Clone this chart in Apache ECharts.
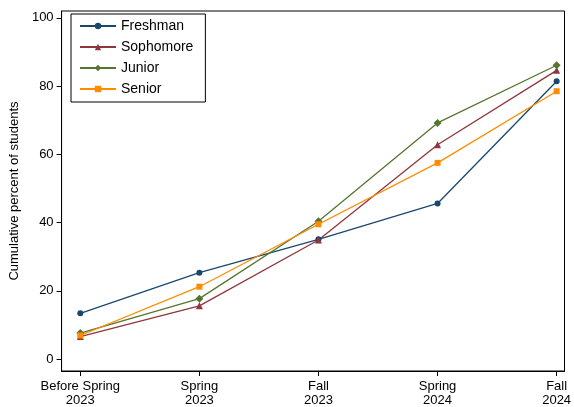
<!DOCTYPE html>
<html><head><meta charset="utf-8">
<script src="https://cdn.jsdelivr.net/npm/echarts@6/dist/echarts.min.js"></script>
<style>html,body{margin:0;padding:0;background:#fff}#c{width:574px;height:407px}</style>
</head><body><div id="c"></div>
<script>
var categories = ['Before Spring\n2023', 'Spring\n2023', 'Fall\n2023', 'Spring\n2024', 'Fall\n2024'];
var freshman = [13.4, 25.3, 35.1, 45.6, 81.4];
var sophomore = [6.6, 15.6, 34.9, 62.8, 84.6];
var junior = [7.6, 17.7, 40.4, 69.2, 86.1];
var senior = [6.9, 21.2, 39.5, 57.5, 78.5];
var yTicks = [0, 20, 40, 60, 80, 100];

function pts(arr) { return arr.map(function (v, i) { return [i, v]; }); }
function ser(name, data, color, symbol, size) {
	return {
		name: name, type: 'line', data: pts(data), symbol: symbol, symbolSize: size,
		lineStyle: { color: color, width: 1.3 }, itemStyle: { color: color }
	};
}

var chart = echarts.init(document.getElementById('c'));
chart.setOption({
	animation: false,
	textStyle: { fontFamily: 'Arial, Liberation Sans, sans-serif' },
	grid: { left: 55, right: 9, top: 11, bottom: 33, show: true, borderColor: '#000', borderWidth: 1 },
	legend: {
		orient: 'vertical', left: 71, top: 14, padding: [5, 12, 6, 8],
		borderColor: '#000', borderWidth: 1, backgroundColor: '#fff', itemGap: 7,
		itemWidth: 36, itemHeight: 8,
		textStyle: { fontSize: 14, color: '#000' },
		data: ['Freshman', 'Sophomore', 'Junior', 'Senior']
	},
	xAxis: {
		type: 'value', min: -0.157, max: 4.066,
		splitLine: { show: false },
		axisLine: { onZero: false, lineStyle: { color: '#000' } },
		axisTick: { customValues: [0, 1, 2, 3, 4], lineStyle: { color: '#000' }, length: 5 },
		axisLabel: {
			customValues: [0, 1, 2, 3, 4], color: '#000', fontSize: 13, lineHeight: 14,
			formatter: function (v) { return categories[Math.round(v)]; }
		}
	},
	yAxis: {
		type: 'value', min: -3.5, max: 102,
		name: 'Cumulative percent of students', nameLocation: 'middle', nameGap: 36,
		nameTextStyle: { fontSize: 13, color: '#000' },
		splitLine: { show: false },
		axisLine: { show: true, onZero: false, lineStyle: { color: '#000' } },
		axisTick: { show: true, customValues: yTicks, lineStyle: { color: '#000' }, length: 5 },
		axisLabel: { customValues: yTicks, color: '#000', fontSize: 13 }
	},
	series: [
		ser('Freshman', freshman, '#1a476f', 'circle', 6),
		ser('Sophomore', sophomore, '#90353b', 'triangle', 7),
		ser('Junior', junior, '#55752f', 'diamond', 8),
		ser('Senior', senior, '#ff8c00', 'rect', 6)
	]
});
</script></body></html>
